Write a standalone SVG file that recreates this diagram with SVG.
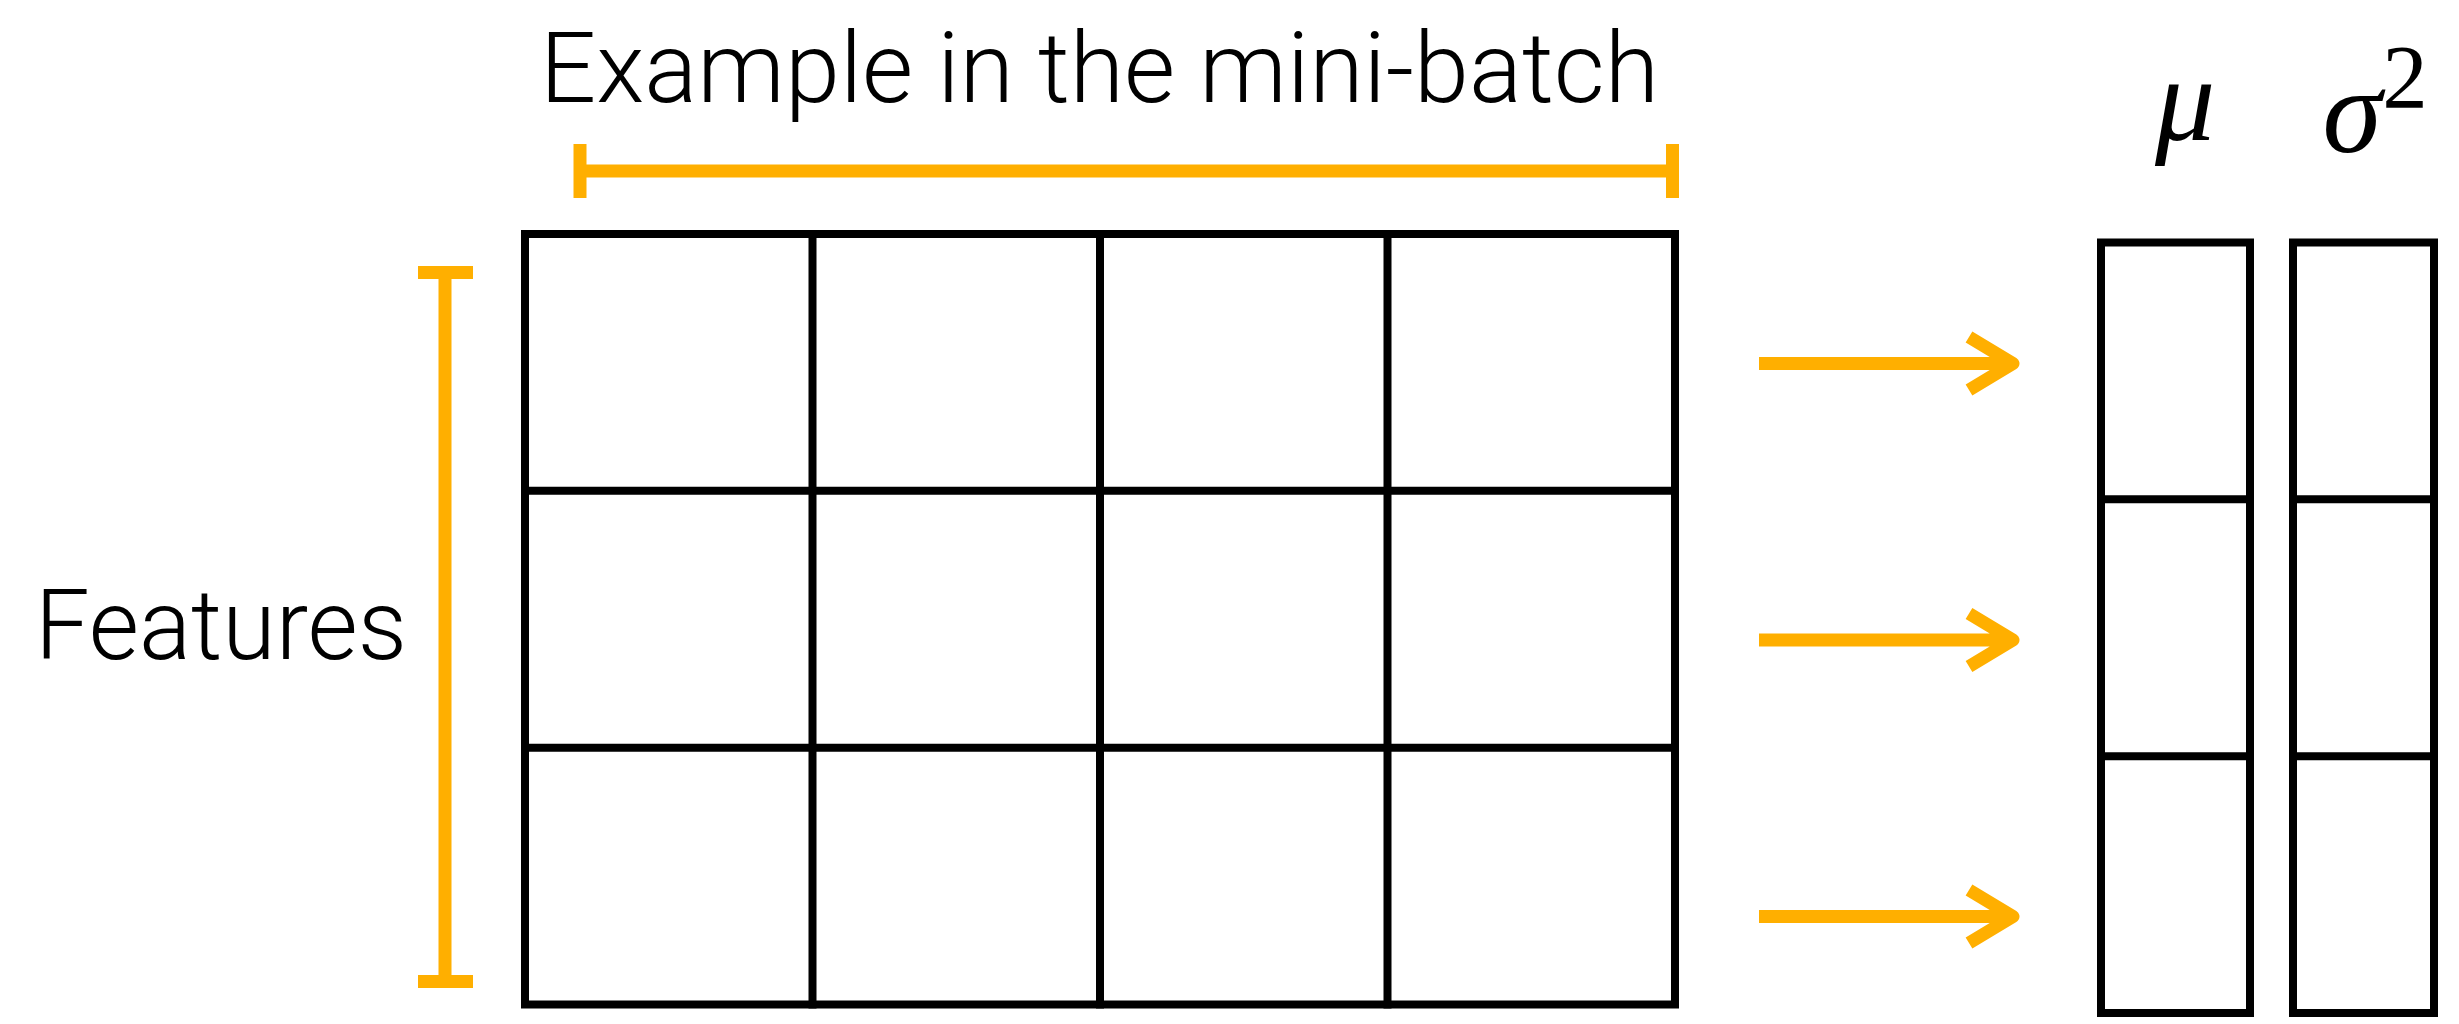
<svg xmlns="http://www.w3.org/2000/svg" width="2459" height="1024" viewBox="0 0 2459 1024">
  <style>
    .bg { fill: #ffffff; }
    .grid { fill: none; stroke: #000000; stroke-width: 8; stroke-linecap: square; }
    .bracket { fill: none; stroke: #FFAF00; stroke-width: 13; stroke-linecap: butt; }
    .arrow { fill: none; stroke: #FFAF00; stroke-width: 13; stroke-linecap: butt; stroke-linejoin: round; }
    .label { font-family: Roboto, "Liberation Sans", sans-serif; font-weight: 300; fill: #000000; }
    .math { font-family: "Liberation Serif", "DejaVu Serif", serif; fill: #000000; }
  </style>
  <rect class="bg" x="0" y="0" width="2459" height="1024"/>

  <g id="matrix">
    <rect class="grid" x="525" y="234" width="1150" height="770.5"/>
    <path class="grid" d="M812.5,234 V1004.5 M1100,234 V1004.5 M1387.5,234 V1004.5 M525,490.8 H1675 M525,747.7 H1675"/>
  </g>

  <g id="mean-vector">
    <rect class="grid" x="2101" y="242.5" width="149" height="770.5"/>
    <path class="grid" d="M2101,499.3 H2250 M2101,756.2 H2250"/>
  </g>

  <g id="variance-vector">
    <rect class="grid" x="2293" y="242.5" width="141" height="770.5"/>
    <path class="grid" d="M2293,499.3 H2434 M2293,756.2 H2434"/>
  </g>

  <g id="examples-bracket">
    <path class="bracket" d="M580,171 H1672.5 M580,144 V198 M1672.5,144 V198"/>
    <text class="label" x="540" y="101.5" font-size="98" textLength="1119" lengthAdjust="spacingAndGlyphs">Example in the mini-batch</text>
  </g>

  <g id="features-bracket">
    <path class="bracket" d="M445,272.5 V981.5 M418,272.5 H473 M418,981.5 H473"/>
    <text class="label" x="35" y="659" font-size="98" textLength="372" lengthAdjust="spacingAndGlyphs">Features</text>
  </g>

  <g id="mu-label">
    <text class="math" x="2185" y="140" font-size="120" font-style="italic" text-anchor="middle">μ</text>
  </g>

  <g id="sigma-label">
    <text class="math" x="2352" y="152" font-size="120" font-style="italic" text-anchor="middle">σ</text>
    <text class="math" x="2405" y="108" font-size="91" text-anchor="middle">2</text>
  </g>

  <g id="connectors">
    <path class="arrow" d="M1759,363.5 H2012 M1969,337 L2013,363.5 L1969,390"/>
    <path class="arrow" d="M1759,640 H2012 M1969,613.5 L2013,640 L1969,666.5"/>
    <path class="arrow" d="M1759,916.5 H2012 M1969,890 L2013,916.5 L1969,943"/>
  </g>
</svg>
